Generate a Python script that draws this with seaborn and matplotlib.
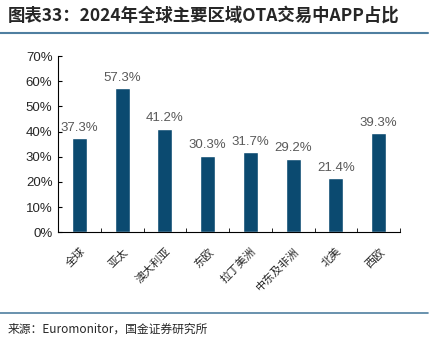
import matplotlib
matplotlib.use('Agg')
import matplotlib.pyplot as plt
import seaborn as sns
import numpy as np
import pandas as pd
from matplotlib.ticker import FixedLocator, PercentFormatter

sns.set_style('white')
plt.rcParams['font.family'] = ['Liberation Sans', 'Noto Sans CJK SC', 'DejaVu Sans']

BAR_COLOR = '#0B4A70'
LINE_COLOR = '#4F7FA0'

regions = ['全球', '亚太', '澳大利亚', '东欧', '拉丁美洲', '中东及非洲', '北美', '西欧']
app_share = [37.3, 57.3, 41.2, 30.3, 31.7, 29.2, 21.4, 39.3]

df = pd.DataFrame({'region': regions, 'share': app_share})

fig = plt.figure(figsize=(4.43, 3.55), dpi=100)
ax = fig.add_axes([0.131, 0.346, 0.772, 0.496])

sns.barplot(data=df, x='region', y='share', color=BAR_COLOR, width=0.35,
            saturation=1, ax=ax)

# value labels
for i, v in enumerate(app_share):
    ax.text(i, v + 1.8, f'{v:.1f}%', ha='center', va='bottom',
            fontsize=9.5, color='#595959')

ax.set_ylim(0, 70)
ax.set_xlim(-0.5, len(regions) - 0.5)
ax.set_yticks(np.arange(0, 71, 10))
ax.yaxis.set_major_formatter(PercentFormatter(decimals=0))
ax.tick_params(axis='y', direction='in', length=3, labelsize=9.5, pad=4,
               left=True, color='black')

ax.set_xticks(range(len(regions)))
ax.set_xticklabels(regions, rotation=45, ha='right', rotation_mode='anchor',
                   fontsize=8, family=['Noto Sans CJK SC'])
ax.tick_params(axis='x', length=0, pad=10)
ax.xaxis.set_minor_locator(FixedLocator(np.arange(-0.5, len(regions), 1)))
ax.tick_params(axis='x', which='minor', direction='in', length=3,
               bottom=True, color='black')

for s in ['top', 'right']:
    ax.spines[s].set_visible(False)
for s in ['left', 'bottom']:
    ax.spines[s].set_color('black')
    ax.spines[s].set_linewidth(0.8)
ax.set_xlabel('')
ax.set_ylabel('')

# title and source
fig.text(0.018, 0.955, '图表33：2024年全球主要区域OTA交易中APP占比',
         fontsize=12.5, fontweight='bold', style='italic',
         family=['Noto Sans CJK SC'], ha='left', va='center')
fig.add_artist(plt.Line2D([0, 0.966], [0.907, 0.907], color=LINE_COLOR, lw=1.5))
fig.add_artist(plt.Line2D([0, 0.966], [0.118, 0.118], color=LINE_COLOR, lw=1.2))
fig.text(0.018, 0.073, '来源：Euromonitor，国金证券研究所', fontsize=8.5,
         family=['Noto Sans CJK SC'], ha='left', va='center')

fig.savefig('out.png', dpi=100)
